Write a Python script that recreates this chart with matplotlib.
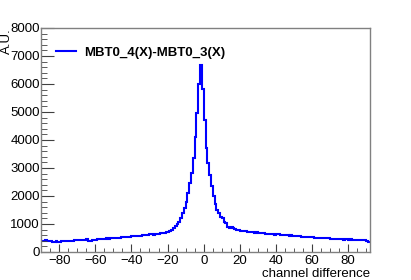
import numpy as np
import matplotlib
matplotlib.use("Agg")
from matplotlib import pyplot as plt
from matplotlib.ticker import MultipleLocator

plt.rcParams['font.family'] = ['Liberation Sans', 'DejaVu Sans']

# bin edges: integer bins from -90 to 92
edges = np.arange(-90, 93, 1)

# counts per bin
tail_left = [380, 400, 420, 410, 390, 380, 370, 375, 380, 370,      # -90..-81
             375, 390, 400, 395, 405, 400, 410, 405, 415, 420,      # -80..-71
             430, 420, 430, 425, 440, 455, 380, 400, 420, 430,      # -70..-61
             445, 450, 455, 465, 470, 480, 485, 480, 495, 500,      # -60..-51
             490, 505, 515, 510, 520, 530, 525, 540, 550, 545,      # -50..-41
             560, 555, 570, 575, 565, 585, 590, 600, 595, 620,      # -40..-31
             640, 630, 615, 640, 650, 660, 665, 675, 690, 700]      # -30..-21
rise_left = [710, 740, 790, 850, 920, 1000, 1080, 1200, 1380, 1560,  # -20..-11
             1800, 2100, 2450, 2820, 3345, 4100, 4950, 6000]         # -10..-3
peak = [6680, 5810, 4710, 3700, 3190, 2750]                          # -2..3
fall_right = [2350, 2000, 1700, 1500, 1380, 1260, 1200, 1080, 1020, 900,  # 4..13
              850, 900, 870, 810, 790, 770, 760, 750]                     # 14..21
tail_right = [745, 735, 730, 720, 715, 700, 690, 700, 680,            # 22..30
              670, 690, 665, 650, 660, 640, 645, 630, 625, 640,      # 31..40
              630, 615, 620, 600, 605, 590, 585, 590, 570, 565,      # 41..50
              560, 555, 560, 545, 540, 535, 540, 525, 520, 525,      # 51..60
              510, 515, 505, 500, 495, 500, 490, 485, 490, 475,      # 61..70
              470, 465, 470, 455, 460, 450, 445, 455, 450, 440,      # 71..80
              450, 445, 440, 445, 435, 440, 430, 425, 420, 400,      # 81..90
              370]                                                   # 91

counts = np.array(tail_left + rise_left + peak + fall_right + tail_right)
assert len(counts) == len(edges) - 1

fig = plt.figure(figsize=(4.11, 2.80), dpi=100)
ax = fig.add_axes([0.1, 0.1, 0.8, 0.8])

ax.stairs(counts, edges, color='#0000ff', linewidth=1.5, baseline=None,
          label='MBT0_4(X)-MBT0_3(X)')

ax.set_xlim(-90, 92)
ax.set_ylim(0, 8000)
ax.xaxis.set_major_locator(MultipleLocator(20))
ax.xaxis.set_minor_locator(MultipleLocator(5))
ax.yaxis.set_major_locator(MultipleLocator(1000))
ax.yaxis.set_minor_locator(MultipleLocator(200))

for s in ax.spines.values():
    s.set_color('#808080')
    s.set_linewidth(1.0)

ax.tick_params(which='both', direction='in', top=False, right=False,
               color='#404040', labelsize=9.5, labelcolor='black')
ax.tick_params(axis='x', which='major', length=6, pad=2)
ax.tick_params(axis='x', which='minor', length=3)
ax.tick_params(axis='y', which='major', length=9, pad=1)
ax.tick_params(axis='y', which='minor', length=4.5)

ax.set_xlabel('channel difference', fontsize=9.5, loc='right', labelpad=1)
fig.text(0.018, 0.9, 'A.U.', rotation=90, ha='center', va='top', fontsize=9.5)

leg = ax.legend(loc='upper left', bbox_to_anchor=(0.01, 0.97), frameon=False,
                handlelength=1.5, handletextpad=0.6,
                prop={'weight': 'bold', 'size': 9.5})

fig.savefig('out.png', dpi=100)
